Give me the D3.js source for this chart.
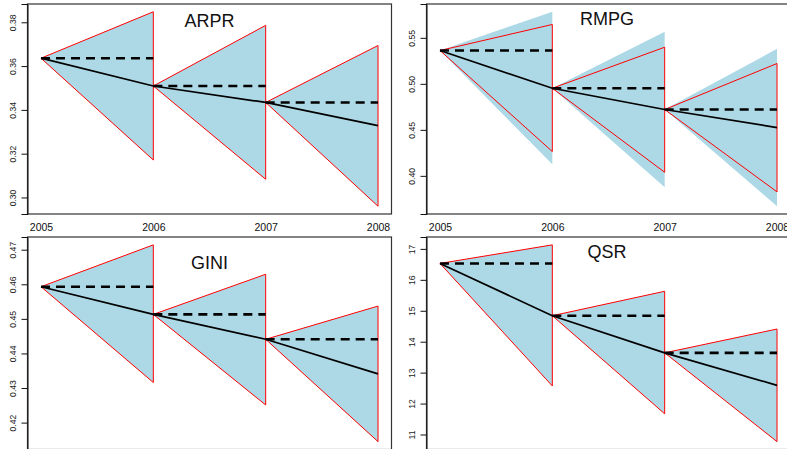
<!DOCTYPE html>
<html><head><meta charset="utf-8">
<script src="https://cdn.jsdelivr.net/npm/d3@7"></script>
<style>
body{margin:0;background:#fff;overflow:hidden;}
svg{display:block;font-family:"Liberation Sans",Arial,Helvetica,sans-serif;}
</style></head>
<body><svg id="chart" width="787" height="449"></svg>
<script>
// ---------- data ----------
const years = [2005, 2006, 2007, 2008];
const panelNames = ["ARPR", "RMPG", "GINI", "QSR"];

// point forecasts / fitted values (solid line)
const arprFit = [0.3636, 0.3509, 0.3434, 0.3328];
const rmpgFit = [0.5362, 0.4952, 0.4721, 0.4525];
const giniFit = [0.4593, 0.4513, 0.4441, 0.4341];
const qsrFit  = [16.53, 14.84, 13.64, 12.59];

// inner interval (red outline)
const arprUpper = [null, 0.3848, 0.3786, 0.3694];
const arprLower = [null, 0.3171, 0.3083, 0.2960];
const rmpgUpper = [null, 0.5645, 0.5398, 0.5221];
const rmpgLower = [null, 0.4264, 0.4039, 0.3826];
const giniUpper = [null, 0.4714, 0.4629, 0.4537];
const giniLower = [null, 0.4316, 0.4251, 0.4145];
const qsrUpper  = [null, 17.13, 15.63, 14.41];
const qsrLower  = [null, 12.57, 11.67, 10.77];

// outer interval (light-blue fill)
const arprOuterUpper = [null, 0.3848, 0.3786, 0.3694];
const arprOuterLower = [null, 0.3171, 0.3083, 0.2960];
const rmpgOuterUpper = [null, 0.5783, 0.5565, 0.5380];
const rmpgOuterLower = [null, 0.4126, 0.3876, 0.3670];
const giniOuterUpper = [null, 0.4714, 0.4629, 0.4537];
const giniOuterLower = [null, 0.4316, 0.4251, 0.4145];
const qsrOuterUpper  = [null, 17.13, 15.63, 14.41];
const qsrOuterLower  = [null, 12.57, 11.67, 10.77];

// y tick labels
const arprTicks = [0.30, 0.32, 0.34, 0.36, 0.38];
const rmpgTicks = [0.40, 0.45, 0.50, 0.55];
const giniTicks = [0.42, 0.43, 0.44, 0.45, 0.46, 0.47];
const qsrTicks  = [11, 12, 13, 14, 15, 16, 17];

// ---------- layout ----------
const panels = [
  {name: panelNames[0], fit: arprFit, up: arprUpper, lo: arprLower, oup: arprOuterUpper, olo: arprOuterLower, ticks: arprTicks, fmt: d3.format(".2f"), x0: 27.5, x1: 391.5, y0: 4, y1: 214, titleY: 27, xLabels: true},
  {name: panelNames[1], fit: rmpgFit, up: rmpgUpper, lo: rmpgLower, oup: rmpgOuterUpper, olo: rmpgOuterLower, ticks: rmpgTicks, fmt: d3.format(".2f"), x0: 426.5, x1: 790.5, y0: 4, y1: 214, titleY: 24.5, xLabels: true},
  {name: panelNames[2], fit: giniFit, up: giniUpper, lo: giniLower, oup: giniOuterUpper, olo: giniOuterLower, ticks: giniTicks, fmt: d3.format(".2f"), x0: 27.5, x1: 391.5, y0: 237, y1: 449.5, titleY: 268.5, xLabels: false},
  {name: panelNames[3], fit: qsrFit, up: qsrUpper, lo: qsrLower, oup: qsrOuterUpper, olo: qsrOuterLower, ticks: qsrTicks, fmt: d3.format("d"), x0: 426.5, x1: 790.5, y0: 237, y1: 449.5, titleY: 257.5, xLabels: false}
];

const svg = d3.select("#chart");
const pad = (ext) => { const r = ext[1] - ext[0]; return [ext[0] - 0.04 * r, ext[1] + 0.04 * r]; };

panels.forEach(p => {
  const g = svg.append("g");
  const xs = d3.scaleLinear().domain(pad(d3.extent(years))).range([p.x0, p.x1]);
  const all = p.fit.concat(p.oup, p.olo, p.up, p.lo).filter(v => v != null);
  const ys = d3.scaleLinear().domain(pad(d3.extent(all))).range([p.y1, p.y0]);

  const segs = d3.range(years.length - 1);

  // fill (outer interval)
  g.selectAll("path.fill").data(segs).join("path")
    .attr("fill", "#ADD8E6").attr("stroke", "none")
    .attr("d", i => d3.line()([
      [xs(years[i]), ys(p.fit[i])],
      [xs(years[i + 1]), ys(p.oup[i + 1])],
      [xs(years[i + 1]), ys(p.olo[i + 1])]
    ]) + "Z");

  // red triangle (inner interval)
  g.selectAll("path.red").data(segs).join("path")
    .attr("fill", "none").attr("stroke", "#ff0000").attr("stroke-width", 1)
    .attr("stroke-linejoin", "miter")
    .attr("d", i => d3.line()([
      [xs(years[i]), ys(p.fit[i])],
      [xs(years[i + 1]), ys(p.up[i + 1])],
      [xs(years[i + 1]), ys(p.lo[i + 1])]
    ]) + "Z");

  // dashed no-change line
  g.selectAll("line.dash").data(segs).join("line")
    .attr("x1", i => xs(years[i])).attr("x2", i => xs(years[i + 1]))
    .attr("y1", i => ys(p.fit[i])).attr("y2", i => ys(p.fit[i]))
    .attr("stroke", "#000").attr("stroke-width", 2.6)
    .attr("stroke-dasharray", "9,6");

  // solid forecast line
  g.append("path")
    .datum(years.map((y, i) => [xs(y), ys(p.fit[i])]))
    .attr("fill", "none").attr("stroke", "#000").attr("stroke-width", 1.7)
    .attr("d", d3.line());

  // box
  g.append("rect")
    .attr("x", p.x0).attr("y", p.y0)
    .attr("width", p.x1 - p.x0).attr("height", p.y1 - p.y0)
    .attr("fill", "none").attr("stroke", "#333").attr("stroke-width", 1.2);

  // y axis
  const yAxis = g.append("g").attr("transform", `translate(${p.x0},0)`)
    .call(d3.axisLeft(ys).tickValues(p.ticks).tickFormat(p.fmt).tickSize(6).tickPadding(0));
  yAxis.select(".domain").attr("stroke", "#111");
  yAxis.selectAll(".tick line").attr("stroke", "#111");
  yAxis.selectAll(".tick text")
    .attr("transform", "rotate(-90)")
    .attr("x", 0).attr("y", -12).attr("dy", 0)
    .attr("text-anchor", "middle")
    .attr("dominant-baseline", "auto")
    .attr("font-size", 8.6).attr("fill", "#222")
    .style("font-family", "Liberation Sans, Arial, sans-serif");

  // x axis labels (no tick marks); bottom row labels fall outside the window
  if (p.xLabels) {
    const xAxis = g.append("g").attr("transform", `translate(0,${p.y1})`)
      .call(d3.axisBottom(xs).tickValues(years).tickFormat(d3.format("d")).tickSize(0).tickPadding(10));
    xAxis.select(".domain").remove();
    xAxis.selectAll(".tick text")
      .attr("font-size", 10.5).attr("fill", "#111")
      .style("font-family", "Liberation Sans, Arial, sans-serif");
  }

  // title
  g.append("text")
    .attr("x", (p.x0 + p.x1) / 2 - (p.x1 > 787 ? 1.5 : 0)).attr("y", p.titleY)
    .attr("text-anchor", "middle").attr("font-size", 18).attr("fill", "#111")
    .text(p.name);
});
</script>
</body></html>
